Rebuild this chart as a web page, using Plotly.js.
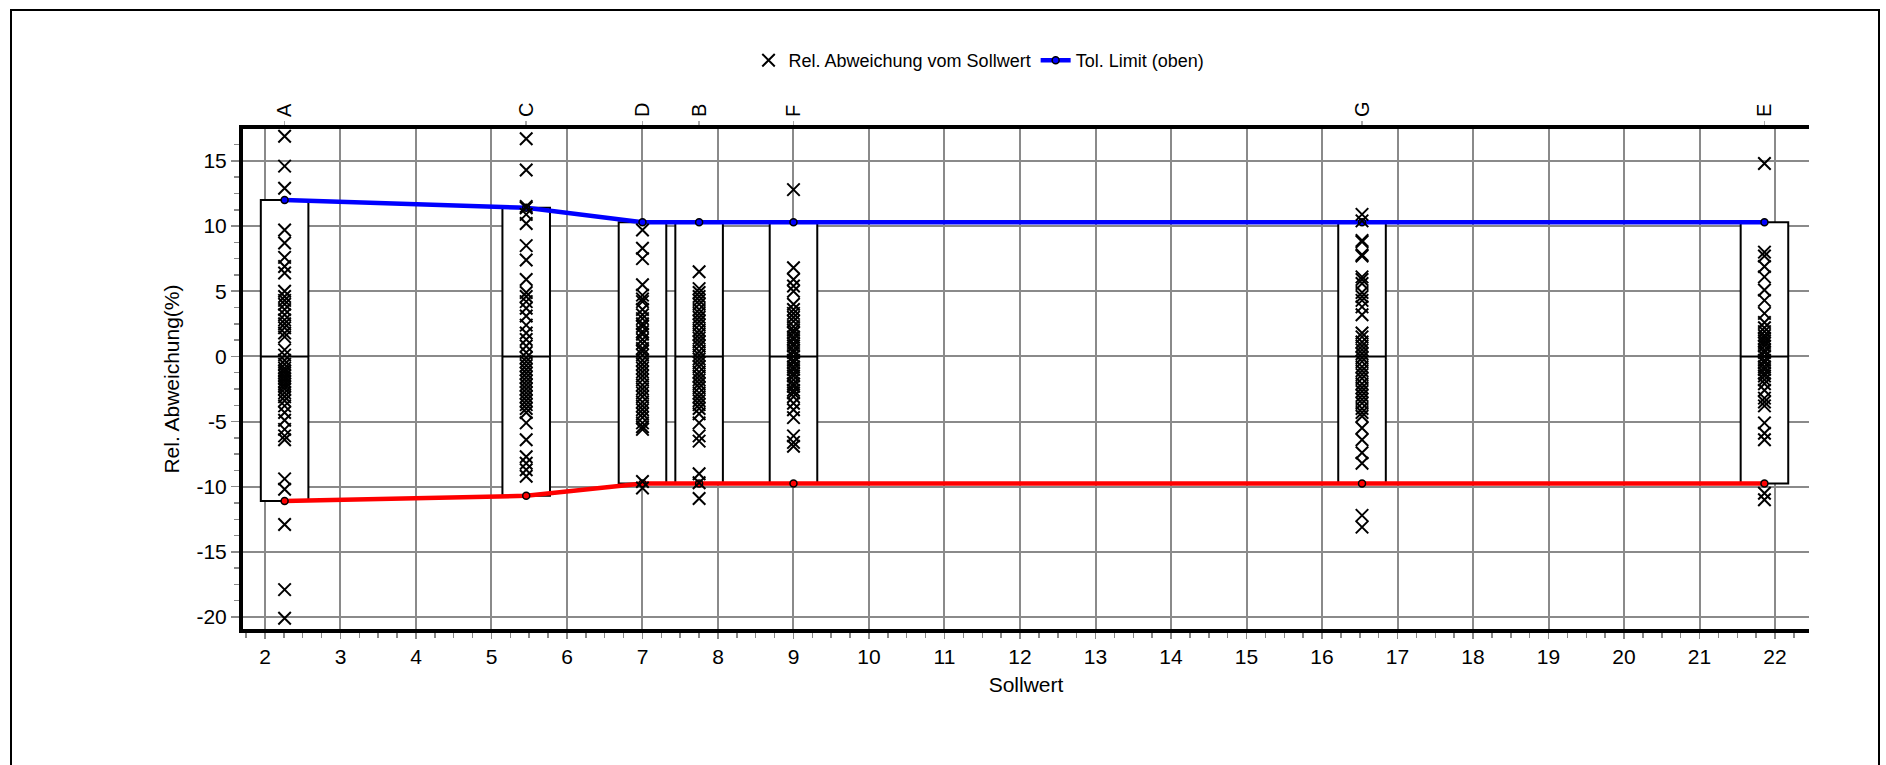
<!DOCTYPE html>
<html>
<head>
<meta charset="utf-8">
<script src="https://cdn.plot.ly/plotly-3.0.1.min.js"></script>
<style>
  html, body { margin: 0; padding: 0; background: #fff; }
  #wrap { position: relative; width: 1886px; height: 765px; overflow: hidden; }
  #chart { position: absolute; left: 0; top: 0; width: 1886px; height: 765px; }
  #frame { position: absolute; left: 10px; top: 9px; width: 1866px; height: 800px; border: 2px solid #000; pointer-events: none; }
</style>
</head>
<body>
<div id="wrap"><div id="chart"></div><div id="frame"></div></div>
<script>
// Groups (labels on the top axis) and their Sollwert positions
const groupLabels = ['A', 'C', 'D', 'B', 'F', 'G', 'E'];
const groupSollwert = [2.26, 5.46, 7.0, 7.75, 9.0, 16.53, 21.86];

// Tolerance limits (upper / lower) per group, in %
const tolUpper = [12.0, 11.4, 10.3, 10.3, 10.3, 10.3, 10.3];
const tolLower = [-11.1, -10.7, -9.75, -9.75, -9.75, -9.75, -9.75];
const medianLine = [0, 0, 0, 0, 0, 0, 0];

// Relative deviations (%) per group
const devA = [16.9, 14.6, 12.9, 9.7, 8.7, 7.6, 6.9, 6.4, 5.0, 4.6, 4.3, 4.0, 3.6, 3.2, 2.8, 2.5, 2.2, 1.8, 1.5, 0.5, 0.1, -0.3, -0.6, -0.9, -1.1, -1.3, -1.5, -1.7, -1.9, -2.1, -2.3, -2.5, -2.8, -3.1, -3.4, -3.8, -4.3, -4.9, -5.6, -6.1, -6.4, -9.4, -10.2, -12.9, -17.9, -20.1];
const devC = [16.7, 14.3, 11.5, 11.4, 10.9, 10.2, 8.5, 7.4, 5.9, 4.9, 4.6, 4.2, 3.7, 3.1, 2.4, 1.8, 1.3, 0.8, 0.3, -0.1, -0.4, -0.7, -1.0, -1.3, -1.6, -1.9, -2.2, -2.5, -2.8, -3.1, -3.4, -3.7, -4.0, -4.3, -5.1, -6.4, -7.7, -8.2, -8.7, -9.2];
const devD = [9.7, 8.3, 7.5, 5.5, 4.7, 4.4, 4.2, 3.6, 3.2, 2.9, 2.5, 2.3, 1.9, 1.7, 1.3, 1.0, 0.6, 0.4, 0.1, -0.3, -0.6, -0.9, -1.2, -1.5, -1.8, -2.2, -2.5, -2.8, -3.1, -3.5, -3.8, -4.1, -4.4, -4.7, -5.1, -5.4, -5.6, -9.6, -10.1];
const devB = [6.5, 5.2, 4.9, 4.6, 4.3, 4.0, 3.6, 3.3, 3.0, 2.7, 2.4, 2.0, 1.7, 1.4, 1.1, 0.8, 0.4, 0.1, -0.2, -0.5, -0.8, -1.2, -1.5, -1.8, -2.1, -2.4, -2.8, -3.1, -3.4, -3.7, -4.0, -4.4, -5.1, -6.1, -6.5, -9.0, -9.7, -10.9];
const devF = [12.8, 6.8, 5.9, 5.4, 5.0, 4.0, 3.6, 3.3, 3.0, 2.7, 2.3, 2.0, 1.8, 1.5, 1.3, 1.0, 0.8, 0.5, 0.3, 0.0, -0.3, -0.5, -0.8, -1.0, -1.3, -1.5, -1.8, -2.1, -2.3, -2.6, -2.8, -3.1, -3.6, -4.1, -4.7, -6.1, -6.6, -6.9];
const devG = [10.9, 10.4, 8.9, 8.8, 7.8, 7.7, 6.1, 5.9, 5.6, 4.9, 4.6, 4.3, 3.8, 3.2, 1.8, 1.5, 1.1, 0.8, 0.5, 0.2, -0.1, -0.4, -0.8, -1.1, -1.4, -1.7, -2.1, -2.4, -2.7, -3.0, -3.3, -3.6, -4.0, -4.3, -4.6, -5.5, -6.4, -7.4, -8.2, -12.2, -13.1];
const devE = [14.8, 8.0, 7.7, 6.9, 6.1, 5.1, 4.3, 3.3, 2.6, 2.2, 1.9, 1.6, 1.4, 1.2, 1.0, 0.8, 0.5, 0.3, 0.0, -0.3, -0.5, -0.8, -1.0, -1.3, -1.5, -1.8, -2.1, -2.6, -3.2, -3.5, -3.8, -5.1, -5.9, -6.4, -10.5, -11.0];

const devByGroup = [devA, devC, devD, devB, devF, devG, devE];

// Tick labels
const yTickVals = [-20, -15, -10, -5, 0, 5, 10, 15];
const yTickText = ['-20', '-15', '-10', '-5', '0', '5', '10', '15'];

// Build scatter arrays
const ptsX = [], ptsY = [];
devByGroup.forEach((arr, i) => arr.forEach(v => { ptsX.push(groupSollwert[i]); ptsY.push(v); }));

const FONT = 'Liberation Sans, Arial, sans-serif';

const traces = [
  {
    type: 'box', xaxis: 'x', yaxis: 'y',
    x: groupSollwert, q1: tolLower, median: medianLine, q3: tolUpper,
    lowerfence: tolLower, upperfence: tolUpper,
    width: 0.63, whiskerwidth: 0,
    boxpoints: false, fillcolor: '#ffffff',
    line: { color: '#000000', width: 2 },
    showlegend: false, hoverinfo: 'skip'
  },
  {
    type: 'scatter', mode: 'lines+markers', name: 'Tol. Limit (unten)',
    x: groupSollwert, y: tolLower,
    line: { color: '#ff0000', width: 4.5 },
    marker: { symbol: 'circle', size: 7, color: '#ff0000', line: { color: '#000', width: 1.5 } },
    showlegend: false
  },
  {
    type: 'scatter', mode: 'lines+markers', name: 'Tol. Limit (oben)',
    x: groupSollwert, y: tolUpper,
    line: { color: '#0000ff', width: 4.5 },
    marker: { symbol: 'circle', size: 7, color: '#0000ff', line: { color: '#000', width: 1.5 } },
    legendrank: 2
  },
  {
    type: 'scatter', mode: 'markers', name: 'Rel. Abweichung vom Sollwert',
    x: ptsX, y: ptsY,
    marker: { symbol: 'x-thin-open', size: 12.5, color: '#000', line: { color: '#000', width: 2 } },
    legendrank: 1
  },
  {
    // invisible anchor trace so the top (group label) axis is drawn
    type: 'scatter', mode: 'markers', xaxis: 'x2', yaxis: 'y',
    x: groupSollwert, y: medianLine,
    marker: { opacity: 0, size: 1 }, showlegend: false, hoverinfo: 'skip'
  }
];

const layout = {
  width: 1886, height: 765,
  margin: { l: 243, r: 77, t: 129, b: 136 },
  paper_bgcolor: 'rgba(0,0,0,0)', plot_bgcolor: '#ffffff',
  font: { family: FONT, color: '#000' },
  showlegend: true,
  legend: {
    orientation: 'h', x: 0.47, xanchor: 'center', y: 1.137, yanchor: 'middle',
    font: { family: FONT, size: 18, color: '#000' }, bgcolor: 'rgba(0,0,0,0)',
    traceorder: 'normal', itemwidth: 30
  },
  xaxis: {
    range: [1.709, 22.45], dtick: 1, tick0: 0,
    showgrid: true, gridcolor: '#8a8a8a', gridwidth: 2, zeroline: false,
    showline: true, linecolor: '#000', linewidth: 4,
    ticks: 'outside', ticklen: 6, tickwidth: 1.5, tickcolor: '#888',
    minor: { dtick: 0.25, ticklen: 5, tickcolor: '#888', tickwidth: 1.5, showgrid: false },
    tickfont: { family: FONT, size: 21, color: '#000' },
    title: { text: 'Sollwert', font: { family: FONT, size: 21, color: '#000' }, standoff: 11 }
  },
  xaxis2: {
    matches: 'x', overlaying: 'x', side: 'top', anchor: 'y',
    tickmode: 'array', tickvals: groupSollwert, ticktext: groupLabels,
    tickangle: -90, showgrid: false, zeroline: false,
    showline: true, linecolor: '#000', linewidth: 4,
    ticks: 'outside', ticklen: 4, tickcolor: '#aaa', tickwidth: 1.5,
    tickfont: { family: FONT, size: 20, color: '#000' }
  },
  yaxis: {
    range: [-20.92, 17.45],
    tickmode: 'array', tickvals: yTickVals, ticktext: yTickText,
    showgrid: true, gridcolor: '#8a8a8a', gridwidth: 2, zeroline: false,
    showline: true, linecolor: '#000', linewidth: 4,
    ticks: 'outside', ticklen: 8, tickwidth: 1.5, tickcolor: '#888',
    minor: { tickmode: 'linear', tick0: 0, dtick: 1.25, ticklen: 5, tickcolor: '#888', tickwidth: 1.5, showgrid: false },
    tickfont: { family: FONT, size: 21, color: '#000' },
    title: { text: 'Rel. Abweichung(%)', font: { family: FONT, size: 21, color: '#000' }, standoff: 12 }
  }
};

Plotly.newPlot('chart', traces, layout, { displayModeBar: false, staticPlot: true });
</script>
</body>
</html>
